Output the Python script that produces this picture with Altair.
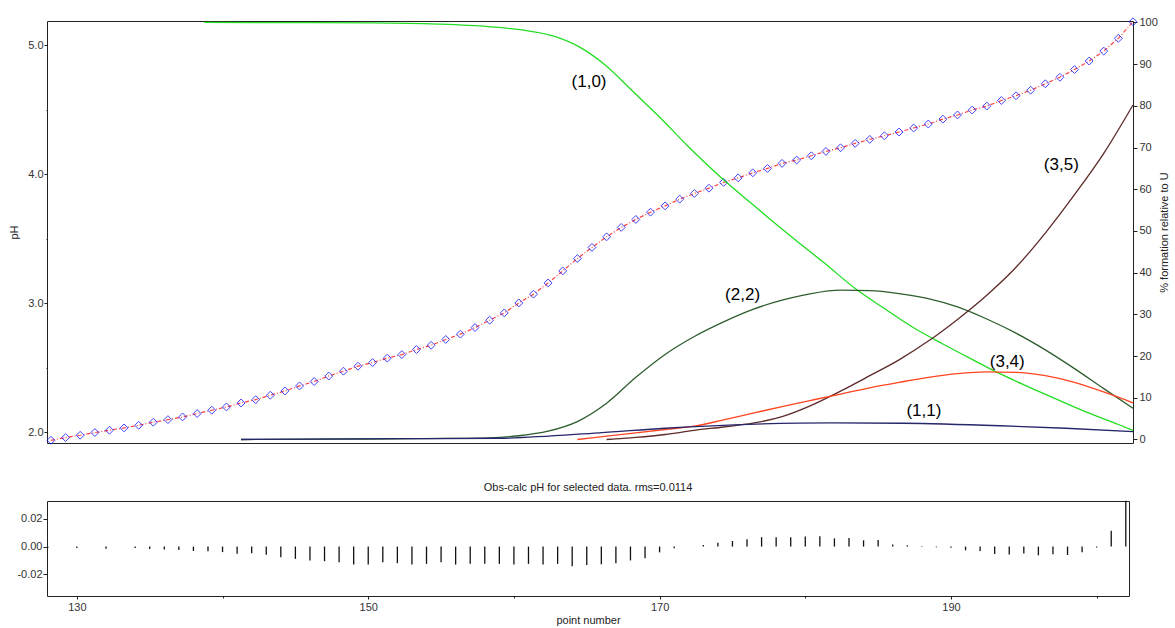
import altair as alt
import pandas as pd

FONT = "Liberation Sans"

# ---- titration data: observed pH at each point ----
points = list(range(128, 203))
ph_obs = [
    1.938, 1.959, 1.977, 1.998, 2.016, 2.034, 2.054, 2.078, 2.098, 2.119,
    2.145, 2.171, 2.196, 2.227, 2.253, 2.287, 2.320, 2.359,
    2.393, 2.436, 2.473, 2.512, 2.540, 2.574, 2.602, 2.641, 2.674, 2.719,
    2.760, 2.811, 2.868, 2.925, 3.002, 3.070, 3.157, 3.250, 3.346, 3.432, 3.514,
    3.587, 3.649, 3.705, 3.754, 3.806, 3.850, 3.891, 3.936, 3.971, 4.010,
    4.044, 4.083, 4.109, 4.142, 4.176, 4.204, 4.238, 4.269, 4.297,
    4.326, 4.357, 4.388, 4.426, 4.458, 4.496, 4.527, 4.570, 4.607, 4.650,
    4.700, 4.750, 4.810, 4.876, 4.953, 5.052, 5.180,
]

# ---- species distribution (% formation relative to U) ----
s10_pt = [138.5, 150, 154.5, 157.9, 160.2, 162.5, 164.1, 165.9, 167.7, 169.6, 171.6,
          173.9, 175.5, 177.8, 179, 181, 183, 185, 187, 189, 191, 193, 195, 197,
          199, 201, 202]
s10_val = [100, 99.9, 99.6, 99.0, 98.2, 96.6, 94.2, 89.8, 83.8, 77.4, 70.2,
           62.6, 57.8, 51.0, 47.6, 42.0, 36.2, 31.4, 26.8, 22.9, 19.2, 15.6, 12.4, 9.3,
           6.3, 3.6, 2.2]

s22_pt = [141, 150, 155, 158, 160, 162, 164, 166, 168, 170, 172, 174, 176, 178,
          180, 182, 184, 186, 188, 190, 192, 194, 196, 198, 200, 202]
s22_val = [0.0, 0.1, 0.25, 0.4, 0.9, 2.0, 4.3, 8.7, 14.9, 20.4, 24.7, 28.2, 31.2, 33.4,
           35.0, 35.8, 35.7, 35.0, 33.8, 31.8, 28.9, 25.5, 21.5, 17.0, 12.2, 7.5]

s35_pt = [166, 168, 170, 172, 174, 176, 178, 180, 182, 184, 186, 188, 190, 192,
          194, 196, 198, 200, 202]
s35_val = [0.0, 0.5, 1.2, 2.2, 3.0, 3.9, 5.5, 8.2, 11.6, 15.3, 19.1, 23.6, 28.8, 34.6,
           41.3, 49.5, 58.7, 68.6, 80.2]

s34_pt = [164, 166, 168, 170, 172, 174, 176, 178, 180, 182, 184, 186, 188, 190,
          192, 194, 196, 198, 200, 202]
s34_val = [0.0, 0.8, 1.6, 2.4, 3.2, 4.7, 6.3, 7.9, 9.4, 10.9, 12.4, 13.7, 14.9, 15.8,
           16.2, 16.1, 15.3, 13.7, 11.4, 8.8]

s11_pt = [141.0, 144.9, 152.0, 158.6, 165.5, 170.0, 176.2, 181.4, 186.3, 192.9,
          197.4, 202.0]
s11_val = [0.0, 0.1, 0.2, 0.3, 1.6, 2.7, 3.7, 4.0, 3.9, 3.3,
           2.7, 1.9]

species_names = ["(1,0)", "(2,2)", "(3,5)", "(3,4)", "(1,1)"]
species_colors = ["#22dd22", "#2e5e2e", "#5e2a2a", "#ff4420", "#26266a"]
label_pt = [164.8, 175.3, 197.1, 193.4, 187.7]
label_val = [85.8, 34.7, 65.8, 18.6, 6.8]

# ---- obs - calc pH residuals for the selected points ----
res_pt = [128, 130, 132, 134, 135, 136, 137, 138, 139, 140, 141, 142, 143, 144,
          145, 146, 147, 148, 149, 150, 151, 152, 153, 154, 155, 156, 157, 158,
          159, 160, 161, 162, 163, 164, 165, 166, 167, 168, 169, 170, 171,
          173, 174, 175, 176, 177, 178, 179, 180, 181, 182, 183, 184, 185, 186,
          187, 188, 189, 190, 191, 192, 193, 194, 195, 196, 197, 198, 199, 200,
          201, 202]
res_val = [-0.0010, -0.0010, -0.0015, -0.0010, -0.0018, -0.0022, -0.0024, -0.0032,
           -0.0034, -0.0040, -0.0052, -0.0048, -0.0060, -0.0077, -0.0089, -0.0100,
           -0.0106, -0.0113, -0.0130, -0.0130, -0.0113, -0.0120, -0.0130, -0.0125,
           -0.0113, -0.0130, -0.0125, -0.0125, -0.0125, -0.0130, -0.0125, -0.0130,
           -0.0125, -0.0142, -0.0134, -0.0128, -0.0120, -0.0100, -0.0084, -0.0042,
           -0.0012,
           0.0011, 0.0027, 0.0040, 0.0053, 0.0068, 0.0068, 0.0068, 0.0072, 0.0075,
           0.0059, 0.0061, 0.0045, 0.0047, 0.0014, 0.0010, 0.0004, -0.0005,
           -0.0009, -0.0027, -0.0032, -0.0054, -0.0058, -0.0050, -0.0063, -0.0055,
           -0.0061, -0.0041, -0.0007, 0.0115, 0.0330]

ph_df = pd.DataFrame({"pt": points, "ph": ph_obs})

rows = []
for name, xs, ys in zip(species_names,
                        [s10_pt, s22_pt, s35_pt, s34_pt, s11_pt],
                        [s10_val, s22_val, s35_val, s34_val, s11_val]):
    for i, (x, y) in enumerate(zip(xs, ys)):
        rows.append({"species": name, "pt": x, "pct": y, "order": i})
sp_df = pd.DataFrame(rows)
lab_df = pd.DataFrame({"species": species_names, "pt": label_pt, "pct": label_val})
res_df = pd.DataFrame({"pt": res_pt, "res": res_val, "zero": 0.0})

# ---- top panel: pH curve and species distribution ----
x_top = alt.X("pt:Q", scale=alt.Scale(domain=[127.73, 202.0], nice=False, zero=False),
              axis=None)

ph_axis = alt.Axis(
    title="pH", values=[2.0, 2.5, 3.0, 3.5, 4.0, 4.5, 5.0],
    labelExpr="datum.value % 1 === 0 ? format(datum.value, '.1f') : ''",
    tickSize={"condition": {"test": "datum.value % 1 === 0", "value": 3}, "value": 1},
    labelPadding=1, titlePadding=8, domain=False,
)
y_ph = alt.Y("ph:Q", scale=alt.Scale(domain=[1.917, 5.186], nice=False, zero=False),
             axis=ph_axis)

ph_line = alt.Chart(ph_df).mark_line(
    color="#ff2020", strokeWidth=1.2, strokeDash=[4, 2, 1, 2], opacity=0.85
).encode(x=x_top, y=y_ph)

ph_pts = alt.Chart(ph_df).mark_point(
    shape="diamond", filled=False, size=62, color="#2323ff", strokeWidth=1, opacity=0.85
).encode(x=x_top, y=y_ph)

pct_axis = alt.Axis(
    title="% formation relative to U", orient="right",
    values=list(range(0, 101, 10)), tickSize=4, labelPadding=2, titlePadding=12,
    titleAngle=270, domain=False,
)
pct_scale = alt.Scale(domain=[-0.84, 100.35], nice=False, zero=False)
y_pct = alt.Y("pct:Q", scale=pct_scale, axis=pct_axis)

sp_lines = alt.Chart(sp_df).mark_line(strokeWidth=1.3, interpolate="monotone").encode(
    x=x_top, y=y_pct, order="order:Q",
    color=alt.Color("species:N", scale=alt.Scale(domain=species_names, range=species_colors),
                    legend=None),
)

sp_labels = alt.Chart(lab_df).mark_text(
    font=FONT, fontSize=17, fontWeight="normal", color="#000000"
).encode(x=x_top, y=y_pct, text="species:N")

ph_layer = alt.layer(ph_line, ph_pts)
pct_layer = alt.layer(sp_lines, sp_labels)

top = alt.layer(ph_layer, pct_layer).resolve_scale(y="independent").properties(
    width=1086, height=422
)

# ---- bottom panel: residuals ----
x_bot = alt.X("pt:Q", scale=alt.Scale(domain=[127.95, 202.22], nice=False, zero=False),
              axis=alt.Axis(
                  title="point number", values=list(range(130, 201, 10)),
                  labelExpr="(datum.value - 130) % 20 === 0 ? datum.label : ''",
                  tickSize={"condition": {"test": "(datum.value - 130) % 20 === 0",
                                          "value": 3}, "value": 2},
                  labelPadding=2, titlePadding=2, domain=False))
y_bot = alt.Y("res:Q", scale=alt.Scale(domain=[-0.0357, 0.0329], nice=False, zero=False),
              axis=alt.Axis(title=None, values=[-0.02, 0.0, 0.02],
                            labelExpr="replace(format(datum.value, '.2f'), '\u2212', '-')",
                            tickSize=4, labelPadding=1, domain=False))

bottom = alt.Chart(res_df).mark_rule(color="#111111", strokeWidth=1.3).encode(
    x=x_bot, y=y_bot, y2="zero:Q"
).properties(
    width=1082, height=95,
    title=alt.TitleParams("Obs-calc pH for selected data. rms=0.0114", font=FONT,
                          fontSize=11, fontWeight="normal", color="#222222",
                          anchor="middle", offset=7),
)

chart = alt.vconcat(top, bottom, spacing=34).properties(
    padding={"left": 8, "top": 15, "right": 2, "bottom": 2},
    background="white",
).configure_view(
    stroke="#222222", strokeWidth=1
).configure_axis(
    labelFont=FONT, labelFontSize=11, labelColor="#333333",
    titleFont=FONT, titleFontSize=11, titleFontWeight="normal", titleColor="#222222",
    tickColor="#222222", grid=False,
)

chart.save("out.html", embed_options={"renderer": "svg", "actions": False})
